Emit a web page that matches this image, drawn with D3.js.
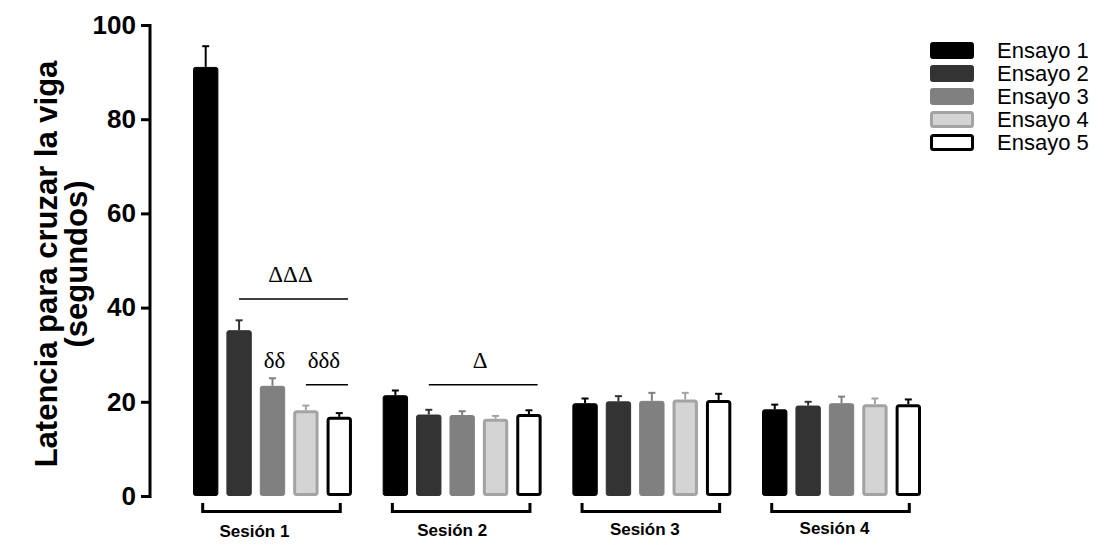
<!DOCTYPE html>
<html lang="es">
<head>
<meta charset="UTF-8">
<title>Latencia</title>
<style>
  body { margin: 0; background: #fff; }
</style>
</head>
<body>
<script src="https://cdn.jsdelivr.net/npm/d3@7"></script>
<script>

    var sessions = ["Sesión 1", "Sesión 2", "Sesión 3", "Sesión 4"];
    var trials = ["Ensayo 1", "Ensayo 2", "Ensayo 3", "Ensayo 4", "Ensayo 5"];

    // mean latency per session, one value per trial
    var means = [
        [91.1, 35.2, 23.4, 18.2, 16.8],
        [21.4, 17.3, 17.2, 16.4, 17.4],
        [19.7, 20.1, 20.2, 20.5, 20.4],
        [18.4, 19.2, 19.7, 19.5, 19.5]
    ];
    // error (upper whisker only)
    var errs = [
        [4.4, 2.1, 1.6, 1.0, 0.8],
        [1.0, 1.0, 0.8, 0.6, 0.8],
        [1.0, 1.1, 1.7, 1.4, 1.3],
        [1.0, 0.8, 1.4, 1.2, 1.0]
    ];
    var yTicks = [0, 20, 40, 60, 80, 100];

    // significance marks: session index, first and last trial index, level
    var marks = [
        { s: 0, from: 1, to: 4, level: 41.8, label: "ΔΔΔ", line: true },
        { s: 0, from: 2, to: 2, level: 23.6, label: "δδ",  line: false },
        { s: 0, from: 3, to: 4, level: 23.6, label: "δδδ", line: true },
        { s: 1, from: 1, to: 4, level: 23.6, label: "Δ",   line: true }
    ];

    var fills   = ["#000000", "#333333", "#808080", "#d4d4d4", "#ffffff"];
    var strokes = ["#000000", "#333333", "#808080", "#a3a3a3", "#000000"];
    var strokeW = [1, 1, 1, 3, 3];
    var labelShift = [-18, -10, -7, -7];

    var width = 1109, height = 545;
    var svg = d3.select("body").append("svg")
        .attr("width", width)
        .attr("height", height)
        .style("font-family", "Arial, 'Liberation Sans', sans-serif");

    var y = d3.scaleLinear().domain([0, 100]).range([496, 25]);

    var x0 = d3.scaleBand()
        .domain(sessions)
        .range([193, 921])
        .paddingInner(0.162)
        .paddingOuter(0);

    var x1 = d3.scaleBand()
        .domain(trials)
        .range([0, x0.bandwidth()])
        .paddingInner(0.24)
        .paddingOuter(0);

    // y axis
    var yAxis = d3.axisLeft(y).tickValues(yTicks).tickSize(9).tickPadding(5);
    var gy = svg.append("g")
        .attr("transform", "translate(150,0)")
        .call(yAxis);
    gy.select(".domain").attr("stroke-width", 3).attr("d", "M-9,25.5H0V496.5H-9");
    gy.selectAll(".tick line").attr("stroke-width", 3);
    gy.selectAll(".tick text")
        .style("font-size", "26px")
        .style("font-weight", "bold")
        .attr("fill", "#000");

    // y title
    svg.append("text")
        .attr("transform", "translate(57,264) rotate(-90)")
        .attr("text-anchor", "middle")
        .style("font-size", "31px")
        .style("font-weight", "bold")
        .text("Latencia para cruzar la viga");
    svg.append("text")
        .attr("transform", "translate(87,264) rotate(-90)")
        .attr("text-anchor", "middle")
        .style("font-size", "31px")
        .style("font-weight", "bold")
        .text("(segundos)");

    // bars
    var rows = [];
    sessions.forEach(function (s, i) {
        trials.forEach(function (t, j) {
            rows.push({ s: s, t: t, j: j, v: means[i][j], e: errs[i][j] });
        });
    });

    var gBars = svg.append("g");
    var bw = x1.bandwidth();

    // error bars first, bars drawn above them
    var gErr = gBars.selectAll(".err")
        .data(rows)
        .enter()
        .append("g")
        .attr("class", "err")
        .attr("stroke", function (d) { return strokes[d.j]; })
        .attr("stroke-width", 2);
    gErr.append("line")
        .attr("x1", function (d) { return x0(d.s) + x1(d.t) + bw / 2; })
        .attr("x2", function (d) { return x0(d.s) + x1(d.t) + bw / 2; })
        .attr("y1", function (d) { return y(d.v); })
        .attr("y2", function (d) { return y(d.v + d.e); });
    gErr.append("line")
        .attr("x1", function (d) { return x0(d.s) + x1(d.t) + bw / 2 - 3.5; })
        .attr("x2", function (d) { return x0(d.s) + x1(d.t) + bw / 2 + 3.5; })
        .attr("y1", function (d) { return y(d.v + d.e); })
        .attr("y2", function (d) { return y(d.v + d.e); });

    gBars.selectAll("rect")
        .data(rows)
        .enter()
        .append("rect")
        .attr("x", function (d) { return x0(d.s) + x1(d.t) + strokeW[d.j] / 2; })
        .attr("y", function (d) { return y(d.v) + strokeW[d.j] / 2; })
        .attr("width", function (d) { return bw - strokeW[d.j]; })
        .attr("height", function (d) { return y(0) - y(d.v) - strokeW[d.j]; })
        .attr("rx", 2)
        .attr("fill", function (d) { return fills[d.j]; })
        .attr("stroke", function (d) { return strokes[d.j]; })
        .attr("stroke-width", function (d) { return strokeW[d.j]; });

    // session brackets and labels
    var gSess = svg.append("g");
    sessions.forEach(function (s, i) {
        var xa = x0(s) + x1(trials[0]) + bw / 2 - 3;
        var xb = x0(s) + x1(trials[4]) + bw / 2 + 1;
        gSess.append("path")
            .attr("d", "M" + xa + ",503V511.5H" + xb + "V503")
            .attr("fill", "none")
            .attr("stroke", "#000")
            .attr("stroke-width", 3);
        gSess.append("text")
            .attr("x", x0(s) + x0.bandwidth() / 2 + labelShift[i])
            .attr("y", 537 - i)
            .attr("text-anchor", "middle")
            .style("font-size", "17px")
            .style("font-weight", "bold")
            .text(s);
    });

    // significance marks
    var gSig = svg.append("g");
    marks.forEach(function (m) {
        var s = sessions[m.s];
        var xa = x0(s) + x1(trials[m.from]) + bw / 2;
        var xb = m.line ? x0(s) + x1(trials[m.to]) + bw - 4 : xa;
        var ly = y(m.level);
        if (m.line) {
            gSig.append("line")
                .attr("x1", xa).attr("x2", xb)
                .attr("y1", ly).attr("y2", ly)
                .attr("stroke", "#000")
                .attr("stroke-width", 1.5);
        }
        gSig.append("text")
            .attr("x", m.line ? (xa + xb) / 2 - 3 : xa + 2)
            .attr("y", ly - 17)
            .attr("text-anchor", "middle")
            .style("font-family", "'Liberation Serif', 'DejaVu Serif', serif")
            .style("font-size", "23px")
            .text(m.label);
    });

    // legend
    var legend = svg.append("g").attr("transform", "translate(930,42)");
    var item = legend.selectAll("g")
        .data(trials)
        .enter()
        .append("g")
        .attr("transform", function (d, i) { return "translate(0," + (i * 23) + ")"; });
    item.append("rect")
        .attr("x", function (d, i) { return strokeW[i] / 2; })
        .attr("y", function (d, i) { return strokeW[i] / 2; })
        .attr("width", function (d, i) { return 44 - strokeW[i]; })
        .attr("height", function (d, i) { return 17 - strokeW[i]; })
        .attr("rx", 2)
        .attr("fill", function (d, i) { return fills[i]; })
        .attr("stroke", function (d, i) { return strokes[i]; })
        .attr("stroke-width", function (d, i) { return strokeW[i]; });
    item.append("text")
        .attr("x", 67)
        .attr("y", 16)
        .style("font-size", "22px")
        .text(function (d) { return d; });

</script>
</body>
</html>
